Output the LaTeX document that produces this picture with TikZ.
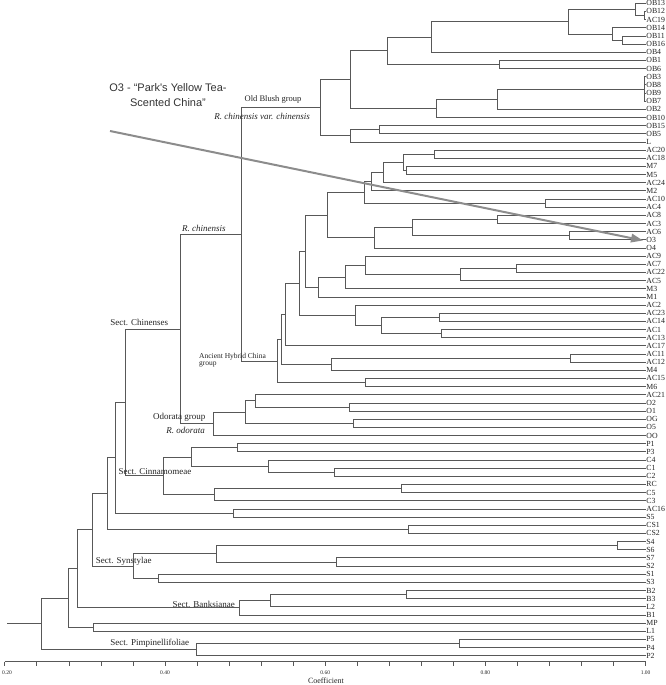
\documentclass[tikz,border=0pt]{standalone}
\usepackage{fontspec}
\setmainfont{Liberation Serif}
\newfontfamily\annfont{Liberation Sans}
\usetikzlibrary{calc,arrows.meta}
\definecolor{linec}{RGB}{88,88,88}
\definecolor{txt}{RGB}{35,35,35}
\definecolor{arrc}{RGB}{140,140,140}
\newcommand{\joinpair}[4]{%
  \coordinate (m#1) at ($(#3)!0.5!(#4)$);
  \coordinate (x#1) at (#2,0);
  \coordinate (#1) at (x#1 |- m#1);
  \draw[br] (#3) -- (#3 -| #1) -- (#4 -| #1) -- (#4);
}
\begin{document}
\begin{tikzpicture}[x=1pt,y=-1pt,
  br/.style={draw=linec, line width=0.75pt},
  leaf/.style={anchor=west, font=\fontsize{7.8}{8}\selectfont, inner sep=0.5pt, text=txt},
  grp/.style={font=\fontsize{9}{10}\selectfont, inner sep=0pt, text=txt},
  grpi/.style={font=\fontsize{9}{10}\selectfont\itshape, inner sep=0pt, text=txt},
  small/.style={font=\fontsize{7.5}{7.6}\selectfont, inner sep=0pt, text=txt},
  tick/.style={font=\fontsize{5.5}{6}\selectfont, inner sep=0pt, text=txt},
  ann/.style={font=\annfont\fontsize{11}{15}\selectfont, inner sep=0pt, text=black!80, align=center},
  arrowline/.style={draw=arrc, line width=2pt, -{Triangle[length=12pt,width=8.5pt]}}]
\useasboundingbox (0,0) rectangle (666,685);

% leaves
\foreach \n [count=\i] in {OB13,OB12,AC19,OB14,OB11,OB16,OB4,OB1,OB6,OB3,OB8,OB9,OB7,OB2,OB10,OB15,OB5,L,AC20,AC18,M7,M5,AC24,M2,AC10,AC4,AC8,AC3,AC6,O3,O4,AC9,AC7,AC22,AC5,M3,M1,AC2,AC23,AC14,AC1,AC13,AC17,AC11,AC12,M4,AC15,M6,AC21,O2,O1,OG,O5,OO,P1,P3,C4,C1,C2,RC,C5,C3,AC16,S5,CS1,CS2,S4,S6,S7,S2,S1,S3,B2,B3,L2,B1,MP,L1,P5,P4,P2}{
  \coordinate (\n) at (645.7,{3.3+(\i-1)*8.155});
  \node[leaf] (lbl-\n) at (\n) {\n};
}

% Old Blush group
\joinpair{na1}{644}{OB12}{AC19}
\joinpair{na2}{635}{OB13}{na1}
\joinpair{na3}{622}{OB11}{OB16}
\joinpair{na4}{612}{OB14}{na3}
\joinpair{na5}{568.3}{na2}{na4}
\joinpair{na6}{431.7}{na5}{OB4}
\joinpair{na7}{499.3}{OB1}{OB6}
\joinpair{na8}{387.3}{na6}{na7}
\joinpair{nb1}{644}{OB3}{OB8}
\joinpair{nb2}{644}{OB9}{OB7}
\joinpair{nb3}{644}{nb1}{nb2}
\joinpair{nb4}{497.7}{nb3}{OB2}
\joinpair{nb5}{436}{nb4}{OB10}
\joinpair{nb6}{350}{na8}{nb5}
\joinpair{nc1}{379.3}{OB15}{OB5}
\joinpair{nc2}{350.7}{nc1}{L}
\joinpair{nob}{320}{nb6}{nc2}

% Ancient Hybrid China group
\joinpair{nd1}{434.3}{AC20}{AC18}
\joinpair{nd2}{406.7}{M7}{M5}
\joinpair{nd3}{403}{nd1}{nd2}
\joinpair{nd4}{383.3}{nd3}{AC24}
\joinpair{nd5}{371.7}{nd4}{M2}
\joinpair{nd6}{545.7}{AC10}{AC4}
\joinpair{nd7}{364}{nd5}{nd6}
\joinpair{ne1}{497.7}{AC8}{AC3}
\joinpair{ne2}{569}{AC6}{O3}
\joinpair{ne3}{412.7}{ne1}{ne2}
\joinpair{ne4}{374}{ne3}{O4}
\joinpair{ne5}{327.7}{nd7}{ne4}
\joinpair{nf1}{516.7}{AC7}{AC22}
\joinpair{nf2}{460.7}{nf1}{AC5}
\joinpair{nf3}{365.7}{AC9}{nf2}
\joinpair{nf4}{345}{nf3}{M3}
\joinpair{nf5}{318.3}{nf4}{M1}
\joinpair{ng1}{305}{ne5}{nf5}
\joinpair{nh1}{439.3}{AC23}{AC14}
\joinpair{nh2}{441.7}{AC1}{AC13}
\joinpair{nh3}{381.7}{nh1}{nh2}
\joinpair{nh4}{355}{AC2}{nh3}
\joinpair{ng2}{299.3}{ng1}{nh4}
\joinpair{ng3}{285}{ng2}{AC17}
\joinpair{ni1}{570}{AC11}{AC12}
\joinpair{ni2}{331}{ni1}{M4}
\joinpair{ng4}{281}{ng3}{ni2}
\joinpair{ni3}{365}{AC15}{M6}
\joinpair{nahc}{277.3}{ng4}{ni3}
\joinpair{nrch}{241.7}{nob}{nahc}

% Odorata group
\joinpair{no1}{349}{O2}{O1}
\joinpair{no2}{255}{AC21}{no1}
\joinpair{no3}{353.3}{OG}{O5}
\joinpair{no4}{245}{no2}{no3}
\joinpair{nodo}{213.3}{no4}{OO}
\joinpair{nchi}{180}{nrch}{nodo}

% Cinnamomeae
\joinpair{np1}{237.3}{P1}{P3}
\joinpair{np2}{334.3}{C1}{C2}
\joinpair{np3}{268.3}{C4}{np2}
\joinpair{np4}{191}{np1}{np3}
\joinpair{nq1}{401.7}{RC}{C5}
\joinpair{nq2}{214.3}{nq1}{C3}
\joinpair{ncin}{163.3}{np4}{nq2}
\joinpair{nsc}{125}{nchi}{ncin}
\joinpair{nr1}{233.3}{AC16}{S5}
\joinpair{nr2}{115}{nsc}{nr1}
\joinpair{nr3}{408.3}{CS1}{CS2}
\joinpair{nr4}{107.7}{nr2}{nr3}

% Synstylae
\joinpair{ns1}{617.3}{S4}{S6}
\joinpair{ns2}{336.7}{S7}{S2}
\joinpair{ns3}{216}{ns1}{ns2}
\joinpair{ns4}{158.3}{S1}{S3}
\joinpair{nsyn}{133.3}{ns3}{ns4}
\joinpair{nr5}{92.7}{nr4}{nsyn}

% Banksianae
\joinpair{nt1}{406.7}{B2}{B3}
\joinpair{nt2}{270}{nt1}{L2}
\joinpair{nban}{239.3}{nt2}{B1}
\joinpair{nr6}{77.7}{nr5}{nban}
\joinpair{nu1}{93.3}{MP}{L1}
\joinpair{nr7}{68.3}{nr6}{nu1}

% Pimpinellifoliae
\joinpair{nv1}{459}{P5}{P4}
\joinpair{npim}{196}{nv1}{P2}
\joinpair{nroot}{41.7}{nr7}{npim}
\coordinate (stubx) at (7,0);
\coordinate (stub) at (stubx |- nroot);
\draw[br] (stub) -- (nroot);

% group labels
\node[grp, font=\fontsize{8.5}{9}\selectfont] (gOB) at (273,99.3) {Old Blush group};
\node[grpi, anchor=east] (gRCV) at (310,116.7) {R. chinensis var. chinensis};
\node[grpi] (gRC) at (203.8,228.3) {R. chinensis};
\node[grp] (gSC) at (139.2,322.7) {Sect. Chinenses};
\node[small, anchor=west] (gAHC) at (199,356.7) {Ancient Hybrid China};
\node[small, anchor=west] (gAHC2) at (199,364.3) {group};
\node[grp] (gOD) at (179.2,417.7) {Odorata group};
\node[grpi] (gRO) at (185.5,430) {R. odorata};
\node[grp] (gCI) at (155,471.7) {Sect. Cinnamomeae};
\node[grp] (gSY) at (123.8,561.7) {Sect. Synstylae};
\node[grp] (gBA) at (203.8,604) {Sect. Banksianae};
\node[grp] (gPI) at (149.7,643.3) {Sect. Pimpinellifoliae};

% axis
\coordinate (ax0) at (4.8,661.7);
\coordinate (ax1) at (645.7,661.7);
\draw[br] (ax0) -- (ax1);
\foreach \k in {0,...,20}{
  \draw[br] ({4.8+\k*32.04},661.7) -- ++(0,4.5);
}
\foreach \v/\k in {0.20/0,0.40/5,0.60/10,0.80/15,1.00/20}{
  \node[tick] at ({4.8+\k*32.04+(\k==0)*2.2},673) {\v};
}
\node[grp, font=\fontsize{8}{9}\selectfont] (coef) at (326,681) {Coefficient};

% annotation
\node[ann] (anntext) at (168,95.5) {O3 - “Park's Yellow Tea-\\Scented China”};
\coordinate (arrstart) at (110,131);
\coordinate (arrtip) at (643,240.5);
\draw[arrowline] (arrstart) -- (arrtip);
\end{tikzpicture}
\end{document}
